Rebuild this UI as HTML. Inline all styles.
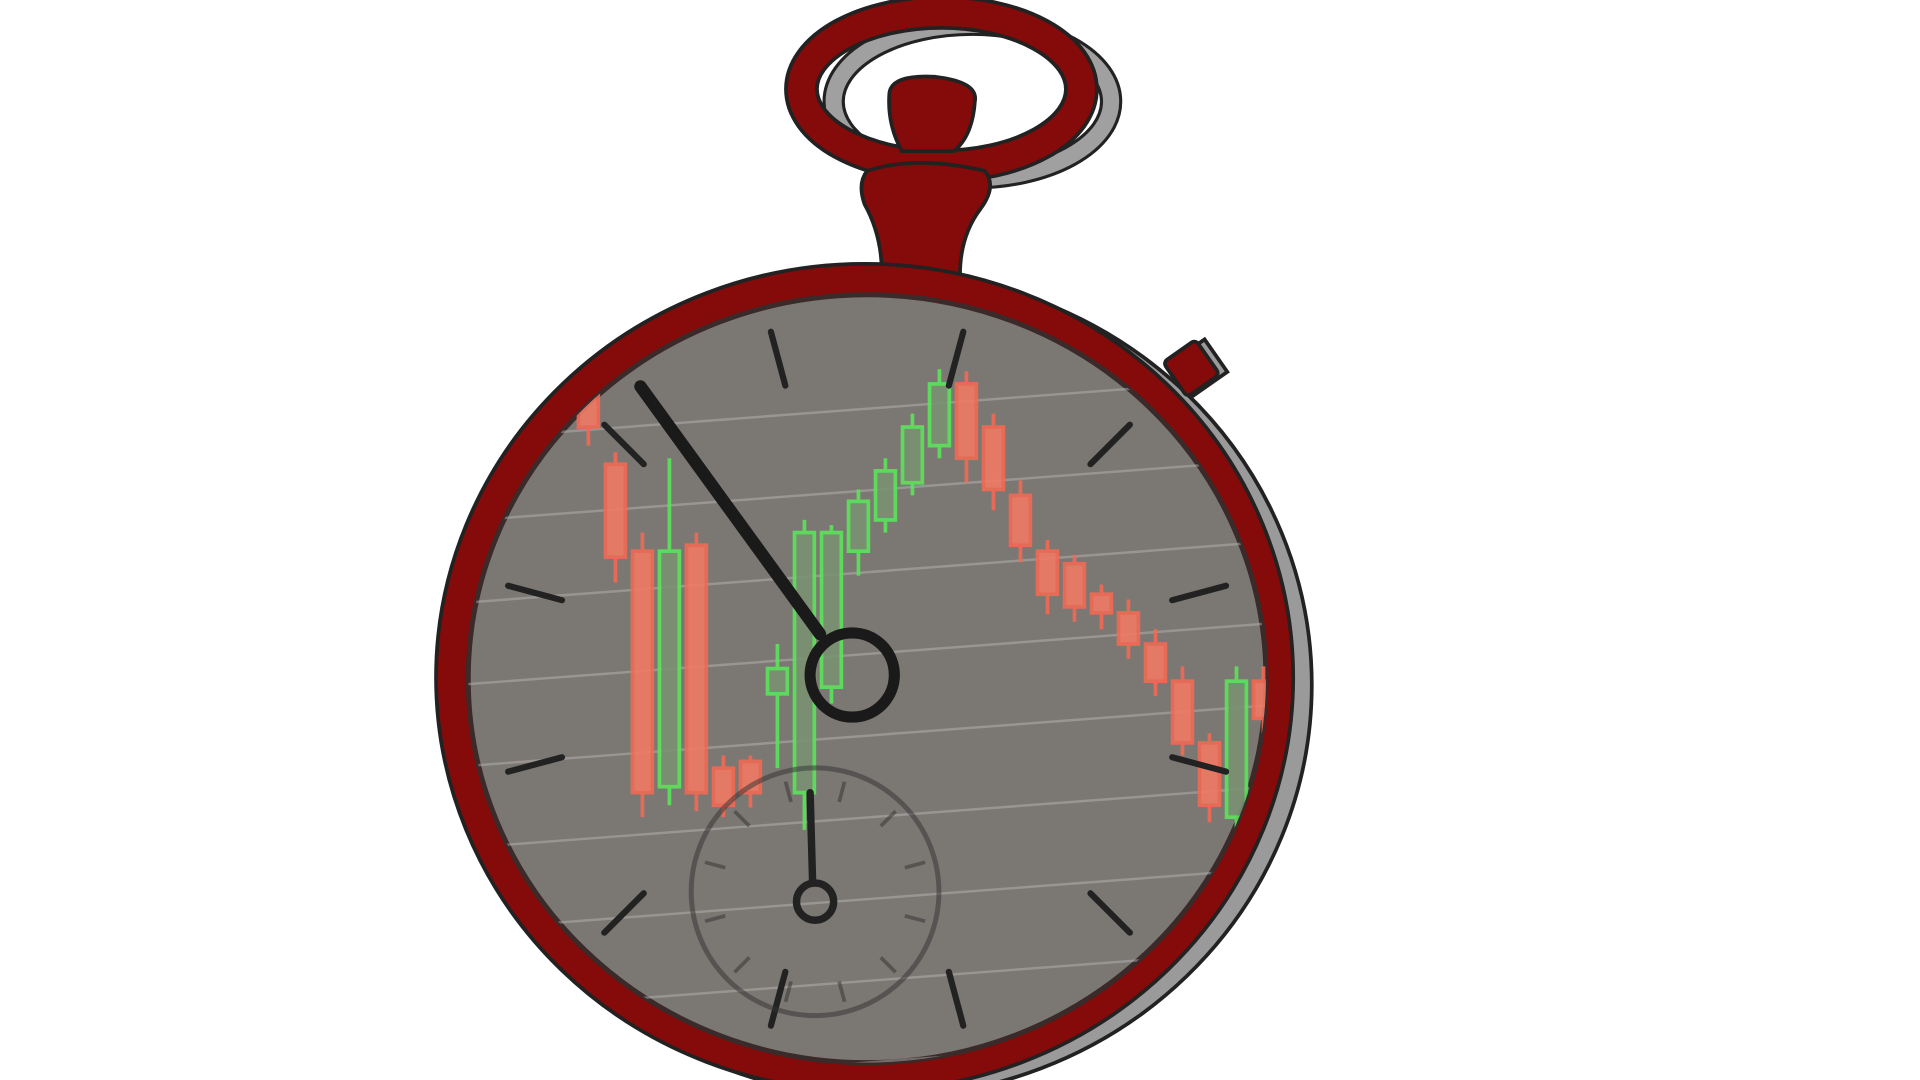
<!DOCTYPE html>
<html><head><meta charset="utf-8"><style>
html,body{margin:0;padding:0;background:#fff;width:1920px;height:1080px;overflow:hidden}
svg{display:block}
</style></head><body>
<svg width="1920" height="1080" viewBox="0 0 1550 872" preserveAspectRatio="none" xmlns="http://www.w3.org/2000/svg">
<defs>
<clipPath id="faceclip"><ellipse cx="700" cy="548" rx="322" ry="310"/></clipPath>
</defs>
<g fill="#9a9a9a" stroke="#222" stroke-width="3">
<ellipse cx="713" cy="553" rx="346" ry="333"/>
<ellipse cx="785" cy="82" rx="112" ry="62" fill="none" stroke="#222" stroke-width="18"/>
<ellipse cx="785" cy="82" rx="112" ry="62" fill="none" stroke="#a0a0a0" stroke-width="13"/>
<rect x="950" y="283" width="36" height="32" transform="rotate(-35 965 300)"/>
</g>
<g>
<ellipse cx="760" cy="72" rx="113" ry="62" fill="none" stroke="#222" stroke-width="28"/>
<ellipse cx="760" cy="72" rx="113" ry="62" fill="none" stroke="#850a0a" stroke-width="22"/>
</g>
<path d="M718 75 Q720 60 755 62 Q790 66 787 82 Q785 110 770 122 L728 122 Q716 100 718 75Z" fill="#850a0a" stroke="#222" stroke-width="3"/>
<path d="M700 138 Q740 125 795 138 Q805 150 792 168 Q775 190 775 222 L712 222 Q712 190 698 165 Q692 148 700 138Z" fill="#850a0a" stroke="#222" stroke-width="3"/>
<rect x="945" y="280" width="32" height="34" rx="4" fill="#850a0a" stroke="#222" stroke-width="3" transform="rotate(-35 962 296)"/>
<ellipse cx="698" cy="547" rx="346" ry="334" fill="#850a0a" stroke="#222" stroke-width="3"/>
<ellipse cx="700" cy="548" rx="322" ry="310" fill="#7b7772" stroke="#3a2a2a" stroke-width="4"/>
<g id="grid" clip-path="url(#faceclip)" stroke="#bbb" stroke-width="2" opacity="0.45"></g>
<g id="candles" clip-path="url(#faceclip)" opacity="0.9"></g>
<g id="ticks" stroke="#222" stroke-width="5" stroke-linecap="round"></g>
<g opacity="0.5">
<circle cx="658" cy="720" r="100" fill="none" stroke="#333" stroke-width="4"/>
<g id="subticks" stroke="#333" stroke-width="3"></g>
</g>
<line x1="656" y1="712" x2="654" y2="640" stroke="#222" stroke-width="6" stroke-linecap="round"/>
<circle cx="658" cy="728" r="15" fill="none" stroke="#222" stroke-width="6"/>
<line x1="517" y1="312" x2="662" y2="512" stroke="#1a1a1a" stroke-width="10" stroke-linecap="round"/>
<circle cx="688" cy="545" r="34" fill="none" stroke="#1a1a1a" stroke-width="9"/>
</svg>
<script>
const ns="http://www.w3.org/2000/svg";
const opens=[96.7,84.2,72.5,40.8,73.3,43.3,44.2,53.3,40,54.2,72.5,76.7,81.7,86.7,95,89.2,80,72.5,70.8,66.7,64.2,60,55,46.7,36.7,55];
const closes=[89.2,71.7,40,72.5,40,38.3,40,56.7,75,75,79.2,83.3,89.2,95,85,80.8,73.3,66.7,65,64.2,60,55,46.7,38.3,55,50];
const highs=[98.3,85.8,75,85,75,45,45,60,76.7,76,80.8,85,91,97,96.7,91,82,74,72,68,66,62,57,48,57,57];
const lows=[86.7,68.3,36.7,38.3,37.5,36.7,38,43.3,35,52,69.2,75,80,85,81.7,78,71,64,63,62,58,53,45,36,35,48];
const xS=i=>475+i*21.8;
const yS=v=>880-v*6;
const cg=document.getElementById('candles');
for(let i=0;i<opens.length;i++){
  const up=closes[i]>=opens[i];
  const col=up?"#5be35b":"#f26a55";
  const x=xS(i);
  const w=document.createElementNS(ns,'line');
  
  
  w.setAttribute('x1',x);w.setAttribute('x2',x);
  w.setAttribute('y1',yS(highs[i]));w.setAttribute('y2',yS(lows[i]));
  w.setAttribute('stroke',col);w.setAttribute('stroke-width','3');
  cg.appendChild(w);
  const r=document.createElementNS(ns,'rect');
  
  
  const t=yS(Math.max(opens[i],closes[i])),b=yS(Math.min(opens[i],closes[i]));
  r.setAttribute('x',x-8);r.setAttribute('width',16);
  r.setAttribute('y',t);r.setAttribute('height',Math.max(3,b-t));
  r.setAttribute('fill',up?"#7a9272":"#f07a65");
  r.setAttribute('stroke',col);r.setAttribute('stroke-width','3');
  cg.appendChild(r);
}
const gg=document.getElementById('grid');
for(let k=0;k<9;k++){
  const l=document.createElementNS(ns,'line');
  
  
  const y=330+k*66;
  l.setAttribute('x1',370);l.setAttribute('y1',y+25);l.setAttribute('x2',1030);l.setAttribute('y2',y-25);
  gg.appendChild(l);
}
const tg=document.getElementById('ticks');
for(let k=0;k<12;k++){
  const a=(k*30+15)*Math.PI/180;
  const l=document.createElementNS(ns,'line');
  
  
  const cx=700,cy=548;
  l.setAttribute('x1',cx+Math.sin(a)*300);l.setAttribute('y1',cy-Math.cos(a)*290);
  l.setAttribute('x2',cx+Math.sin(a)*255);l.setAttribute('y2',cy-Math.cos(a)*245);
  tg.appendChild(l);
}
const sg=document.getElementById('subticks');
for(let k=0;k<12;k++){
  const a=(k*30+15)*Math.PI/180;
  const l=document.createElementNS(ns,'line');
  
  
  l.setAttribute('x1',658+Math.sin(a)*92);l.setAttribute('y1',720-Math.cos(a)*92);
  l.setAttribute('x2',658+Math.sin(a)*75);l.setAttribute('y2',720-Math.cos(a)*75);
  sg.appendChild(l);
}
</script>
</body></html>
